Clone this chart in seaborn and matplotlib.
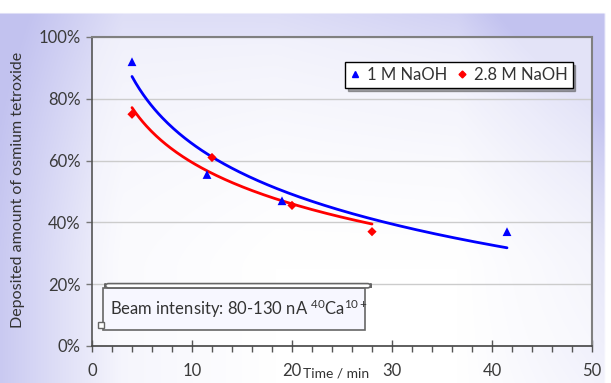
import numpy as np
import pandas as pd
import matplotlib
matplotlib.use("Agg")
import matplotlib.pyplot as plt
import seaborn as sns
from matplotlib.patches import Rectangle, FancyBboxPatch
from matplotlib.ticker import MultipleLocator, FuncFormatter
from matplotlib.lines import Line2D

# ---- data ----
series_names = ["1 M NaOH", "2.8 M NaOH"]
time_1m = [4.0, 11.5, 19.0, 41.5]
dep_1m = [0.92, 0.555, 0.47, 0.37]
time_28m = [4.0, 12.0, 20.0, 28.0]
dep_28m = [0.75, 0.61, 0.455, 0.37]
colors = ["#0000ff", "#ff0000"]
markers = ["^", "D"]
annotation = r"Beam intensity: 80-130 nA $^{40}$Ca$^{10+}$"

sns.set_theme(style="white")
plt.rcParams["font.family"] = ["Lato", "DejaVu Sans"]
plt.rcParams["mathtext.fontset"] = "custom"
plt.rcParams["mathtext.rm"] = "Lato"
plt.rcParams["mathtext.it"] = "Lato"

W, H = 611, 383
fig = plt.figure(figsize=(W / 100, H / 100), dpi=100)

# background gradient
bg = fig.add_axes([0, 0, 1, 1], zorder=-10)
yy, xx = np.mgrid[0:1:200j, 0:1:300j]  # yy: 0 bottom -> 1 top
w_left = np.clip(1 - xx / 0.2, 0, 1) * 0.55 + np.clip(1 - xx / 0.45, 0, 1) * 0.25
w_top = np.clip((yy - 0.3) / 0.7, 0, 1) ** 1.5 * (0.25 + 0.65 * xx)
w_right = np.clip((xx - 0.75) / 0.25, 0, 1) * (0.2 + 0.5 * yy)
w = np.clip(w_left + w_top + w_right, 0, 0.9)
w[yy > 0.968] = 0
w[xx > 0.99] = 0
lav = np.array([188, 188, 238]) / 255.0
img = (1 - w[..., None]) * 1.0 + w[..., None] * lav
bg.imshow(img, origin="lower", extent=[0, 1, 0, 1], aspect="auto", interpolation="bilinear")
bg.set_axis_off()

ax = fig.add_axes([92 / W, (H - 346) / H, 500 / W, 309 / H])
ax.set_facecolor((1, 1, 1, 0.55))

series = [(series_names[0], time_1m, dep_1m), (series_names[1], time_28m, dep_28m)]
sizes = [40, 22]
for (name, t, d), c, m, sz in zip(series, colors, markers, sizes):
    b, a = np.polyfit(np.log(t), d, 1)  # logarithmic trendline
    xs = np.linspace(min(t), max(t), 200)
    fdf = pd.DataFrame({"time": xs, "dep": a + b * np.log(xs)})
    sns.lineplot(data=fdf, x="time", y="dep", color=c, lw=2.0, ax=ax, zorder=3)
    pdf = pd.DataFrame({"time": t, "dep": d})
    sns.scatterplot(data=pdf, x="time", y="dep", color=c, marker=m, s=sz,
                    edgecolor="none", ax=ax, zorder=4)

ax.set_xlim(0, 50)
ax.set_ylim(0, 1)
ax.set_xlabel("")
ax.set_ylabel("")
ax.xaxis.set_major_locator(MultipleLocator(10))
ax.xaxis.set_minor_locator(MultipleLocator(2))
ax.yaxis.set_major_locator(MultipleLocator(0.2))
ax.yaxis.set_major_formatter(FuncFormatter(lambda v, p: f"{v*100:.0f}%"))
ax.tick_params(axis="x", which="major", direction="inout", length=9, width=1,
               color="#555555", labelsize=12, labelcolor="#3a3a3a", pad=8, bottom=True)
ax.tick_params(axis="x", which="minor", direction="out", length=4, width=1,
               color="#555555", bottom=True)
ax.tick_params(axis="y", which="major", direction="out", length=4, width=1,
               color="#777777", labelsize=12, labelcolor="#3a3a3a", pad=4, left=True)
ax.grid(axis="y", color="#cccccc", lw=1)
ax.set_axisbelow(True)
for s in ["top", "right"]:
    ax.spines[s].set_color("#808080")
    ax.spines[s].set_linewidth(1.5)
ax.spines["left"].set_color("#555555")
ax.spines["bottom"].set_color("#444444")
ax.spines["left"].set_linewidth(1.2)
ax.spines["bottom"].set_linewidth(1.2)

# legend
hs = [Line2D([], [], ls="none", marker="^", color=colors[0], ms=5),
      Line2D([], [], ls="none", marker="D", color=colors[1], ms=3.5)]
leg = ax.legend(hs, series_names, ncol=2, loc="upper right",
                bbox_to_anchor=(0.978, 0.945), frameon=True, fancybox=False,
                shadow=True, handlelength=0.6, handletextpad=0.4,
                columnspacing=0.6, borderpad=0.3, fontsize=12,
                edgecolor="black", framealpha=1)
leg.get_frame().set_linewidth(1.0)
for t in leg.get_texts():
    t.set_color("#333333")

# annotation scroll box
ax.add_patch(Rectangle((0.022, 0.052), 0.524, 0.136, transform=ax.transAxes,
                       facecolor=(0.97, 0.97, 1.0), edgecolor="#666666", lw=1.2, zorder=5))
ax.add_patch(FancyBboxPatch((0.026, 0.188), 0.532, 0.014, transform=ax.transAxes,
                            boxstyle="round,pad=0,rounding_size=0.007",
                            facecolor="white", edgecolor="#666666", lw=1.2, zorder=5,
                            mutation_aspect=2))
ax.add_patch(Rectangle((0.012, 0.058), 0.012, 0.02, transform=ax.transAxes,
                       facecolor="white", edgecolor="#666666", lw=1.0, zorder=6))
ax.text(0.036, 0.12, annotation, transform=ax.transAxes, fontsize=12,
        color="#333333", va="center", ha="left", zorder=7)

fig.text(18 / W, (H - 190) / H, "Deposited amount of osmium tetroxide", rotation=90,
         ha="center", va="center", fontsize=11.5, color="#333333")
fig.text(336 / W, (H - 373) / H, "Time / min", ha="center", va="center",
         fontsize=10, color="#333333")

fig.savefig("out.png", dpi=100)
